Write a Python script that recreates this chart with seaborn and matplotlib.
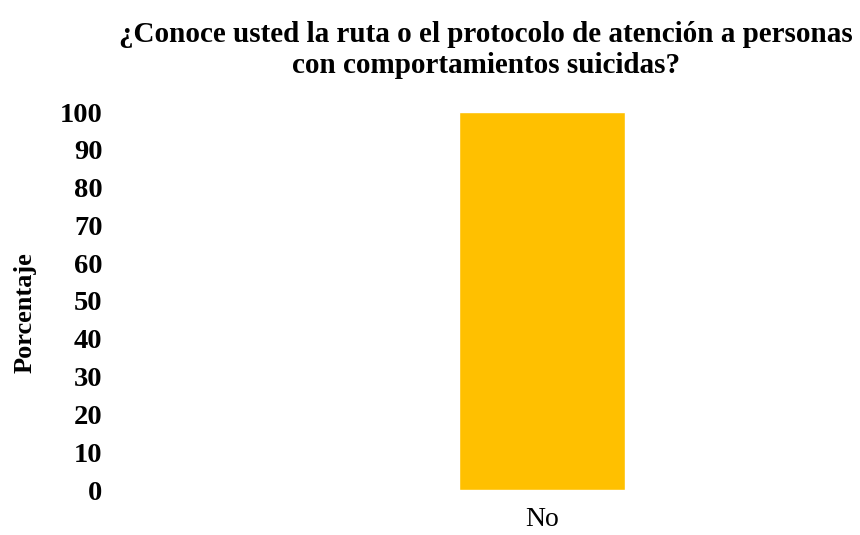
import matplotlib
matplotlib.use("Agg")
import matplotlib.pyplot as plt
import seaborn as sns
import pandas as pd

categories = ["No"]
values = [100]
yticks = [0, 10, 20, 30, 40, 50, 60, 70, 80, 90, 100]
title = "¿Conoce usted la ruta o el protocolo de atención a personas\ncon comportamientos suicidas?"

sns.set_theme(style="white")
plt.rcParams['font.family'] = ['Liberation Serif', 'DejaVu Serif']
plt.rcParams['text.color'] = 'black'
plt.rcParams['axes.labelcolor'] = 'black'
plt.rcParams['xtick.color'] = 'black'
plt.rcParams['ytick.color'] = 'black'

df = pd.DataFrame({"cat": categories, "val": values})

fig = plt.figure(figsize=(8.6, 5.35), dpi=100)
ax = fig.add_axes([115/860, 45/535, 735/860, 378/535])
sns.barplot(data=df, x="cat", y="val", color="#FFC000", saturation=1, width=0.227, ax=ax)
ax.set_xlim(-0.581, 0.419)
ax.set_ylim(0, 100)
ax.set_yticks(yticks)
ax.set_yticklabels([str(t) for t in yticks], fontsize=20.5, fontweight="bold")
ax.tick_params(axis="y", length=0, pad=9)
ax.tick_params(axis="x", length=0, pad=12, labelsize=20)
ax.set_xlabel("")
ax.set_ylabel("")
for s in ax.spines.values():
    s.set_visible(False)
ax.grid(False)
fig.text(25/860, 1 - 313/535, "Porcentaje", rotation=90, ha="center", va="center",
         fontsize=19, fontweight="bold")
fig.text(486/860, 1 - 50/535, title, ha="center", va="center", fontsize=21,
         fontweight="bold", linespacing=1.2)
fig.savefig("out.png", dpi=100)
